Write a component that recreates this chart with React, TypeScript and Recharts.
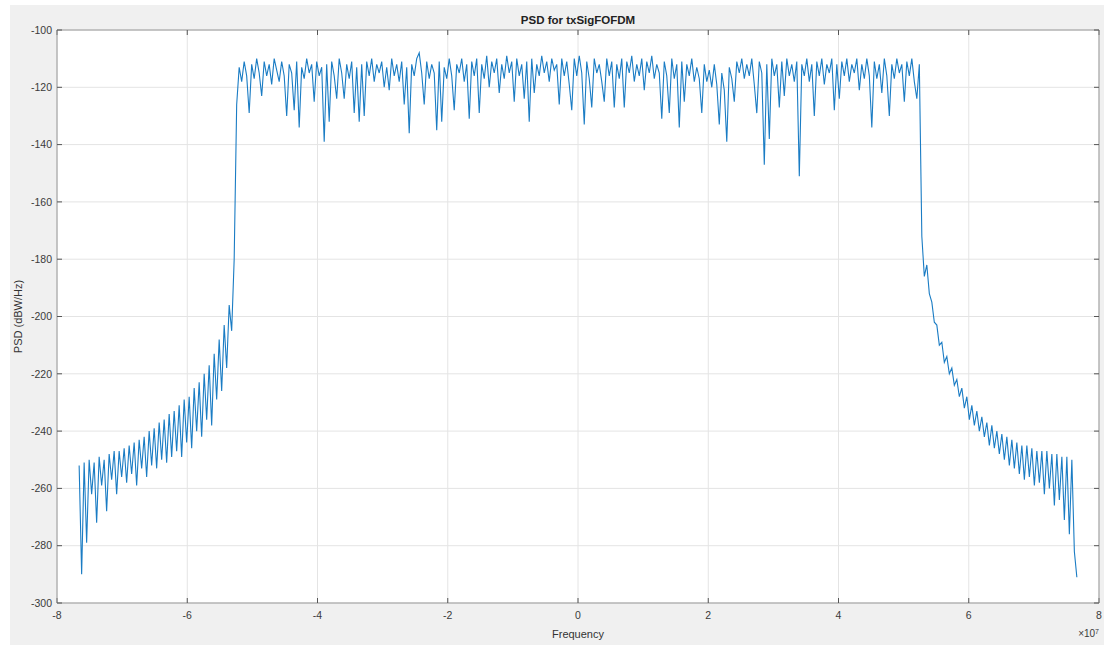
import React from "react";
import { LineChart, Line, XAxis, YAxis, CartesianGrid } from "recharts";

// frequency span of the PSD estimate (Hz), bins are evenly spaced
const F_START = -7.66e7;
const F_END = 7.66e7;

// PSD (dBW/Hz): lower stop band, pass band, upper stop band
const leftTail = [
  -252, -290, -251, -279, -250, -262, -251, -272, -249, -259,
  -250, -268, -248, -257, -247, -262, -247, -256, -246, -258,
  -245, -255, -244, -259, -243, -253, -242, -256, -240, -252,
  -239, -253, -237, -250, -236, -251, -234, -249, -233, -247,
  -231, -249, -229, -244, -228, -246, -225, -240, -223, -242,
  -220, -236, -217, -238, -213, -229, -208, -226, -203, -218,
  -196, -205, -180,
];

const passBand = [
  -126, -113, -118, -111, -116, -129, -112, -117, -110, -115,
  -123, -111, -116, -112, -119, -110, -114, -118, -111, -116,
  -130, -112, -115, -128, -111, -134, -113, -117, -110, -115,
  -112, -125, -111, -116, -113, -139, -112, -132, -111, -116,
  -124, -110, -115, -124, -112, -117, -111, -129, -113, -132,
  -112, -130, -111, -116, -110, -118, -112, -115, -111, -120,
  -113, -121, -110, -116, -112, -118, -111, -126, -113, -136,
  -112, -116, -110, -108, -115, -126, -111, -117, -112, -115,
  -135, -111, -132, -113, -117, -110, -116, -128, -112, -115,
  -110, -118, -112, -131, -111, -116, -110, -129, -112, -117,
  -109, -120, -111, -115, -110, -122, -112, -117, -109, -115,
  -111, -125, -110, -116, -112, -124, -111, -132, -110, -122,
  -112, -116, -109, -115, -111, -118, -110, -114, -112, -126,
  -110, -116, -111, -119, -128, -110, -116, -109, -115, -133,
  -111, -117, -127, -110, -115, -112, -118, -125, -110, -116,
  -111, -127, -112, -117, -110, -127, -111, -115, -109, -118,
  -112, -116, -110, -121, -111, -115, -109, -117, -112, -115,
  -131, -111, -116, -129, -110, -117, -112, -134, -111, -125,
  -112, -116, -110, -118, -113, -117, -129, -112, -118, -114,
  -120, -112, -119, -133, -115, -121, -139, -113, -117, -125,
  -111, -115, -110, -117, -112, -116, -110, -119, -129, -111,
  -115, -147, -112, -138, -110, -116, -112, -127, -111, -123,
  -110, -116, -112, -118, -111, -151, -112, -116, -110, -118,
  -112, -130, -111, -116, -110, -119, -112, -115, -110, -128,
  -112, -124, -111, -116, -110, -118, -112, -115, -110, -121,
  -112, -117, -110, -116, -134, -111, -117, -112, -122, -110,
  -116, -130, -112, -117, -110, -115, -112, -125, -111, -116,
  -110, -118, -124, -112,
];

const rightTail = [
  -172, -186, -182, -192, -195, -202, -203, -210, -209, -216,
  -214, -220, -218, -224, -222, -228, -225, -232, -228, -236,
  -231, -238, -233, -240, -235, -242, -237, -245, -238, -246,
  -240, -248, -241, -250, -242, -252, -243, -253, -244, -255,
  -245, -257, -245, -256, -246, -259, -247, -258, -247, -262,
  -247, -260, -248, -266, -248, -264, -249, -271, -249, -276,
  -250, -282, -291,
];

const xTicks = [-8e7, -6e7, -4e7, -2e7, 0, 2e7, 4e7, 6e7, 8e7];
const yTicks = [-300, -280, -260, -240, -220, -200, -180, -160, -140, -120, -100];

const psd = [...leftTail, ...passBand, ...rightTail];
const fStep = (F_END - F_START) / (psd.length - 1);
const data = psd.map((p, i) => ({ f: F_START + i * fStep, p }));

const FONT = "'Liberation Sans', Arial, Helvetica, sans-serif";
const tickStyle = { fontSize: 10.5, fill: "#3a3a3a", fontFamily: FONT };
const boxLine = { stroke: "#9a9a9a", strokeWidth: 1 };
const tickMark = { stroke: "#555", strokeWidth: 1 };
const noLabel = () => <g />;

export default function App() {
  return (
    <div
      style={{
        position: "absolute",
        left: 0,
        top: 0,
        width: 1120,
        height: 660,
        background: "#fff",
        fontFamily: FONT,
      }}
    >
      <div
        style={{
          position: "absolute",
          left: 10,
          top: 5,
          width: 1094,
          height: 640,
          background: "#f0f0f0",
        }}
      />
      <div style={{ position: "absolute", left: 0, top: 0 }}>
        <LineChart width={1120} height={660} data={data} margin={{ top: 0, right: 0, bottom: 0, left: 0 }}>
          <CartesianGrid fill="#fff" stroke="#e4e4e4" strokeWidth={1} />
          <XAxis
            type="number"
            dataKey="f"
            domain={[-8e7, 8e7]}
            ticks={xTicks}
            allowDataOverflow
            height={57}
            tickSize={-5}
            tickMargin={14}
            tick={tickStyle}
            tickLine={tickMark}
            axisLine={boxLine}
            tickFormatter={(v: number) => String(v / 1e7)}
            label={{ value: "Frequency", position: "insideBottom", offset: 22, fontSize: 11, fill: "#333", fontFamily: FONT }}
          />
          <XAxis
            xAxisId="top"
            orientation="top"
            type="number"
            dataKey="f"
            domain={[-8e7, 8e7]}
            ticks={xTicks}
            allowDataOverflow
            height={30}
            tickSize={-5}
            tick={noLabel}
            tickLine={tickMark}
            axisLine={boxLine}
          />
          <YAxis
            type="number"
            domain={[-300, -100]}
            ticks={yTicks}
            allowDataOverflow
            width={57}
            tickSize={-5}
            tickMargin={10}
            tick={tickStyle}
            tickLine={tickMark}
            axisLine={boxLine}
            label={{
              value: "PSD (dBW/Hz)",
              angle: -90,
              position: "insideLeft",
              offset: 18,
              fontSize: 11,
              fill: "#333",
              fontFamily: FONT,
              style: { textAnchor: "middle" },
            }}
          />
          <YAxis
            yAxisId="right"
            orientation="right"
            type="number"
            domain={[-300, -100]}
            ticks={yTicks}
            allowDataOverflow
            width={21}
            tickSize={-5}
            tick={noLabel}
            tickLine={tickMark}
            axisLine={boxLine}
          />
          <Line
            type="linear"
            dataKey="p"
            stroke="#1a7cc4"
            strokeWidth={1.1}
            dot={false}
            activeDot={false}
            isAnimationActive={false}
          />
        </LineChart>
      </div>
      <div
        style={{
          position: "absolute",
          left: 57,
          top: 13,
          width: 1042,
          textAlign: "center",
          fontSize: 11.5,
          fontWeight: "bold",
          color: "#222",
          lineHeight: "14px",
        }}
      >
        PSD for txSigFOFDM
      </div>
      <div
        style={{
          position: "absolute",
          left: 1030,
          top: 628,
          width: 69,
          textAlign: "right",
          fontSize: 10,
          color: "#3a3a3a",
          lineHeight: "12px",
        }}
      >
        ×10<sup style={{ fontSize: 7, verticalAlign: "top", lineHeight: "8px" }}>7</sup>
      </div>
    </div>
  );
}
